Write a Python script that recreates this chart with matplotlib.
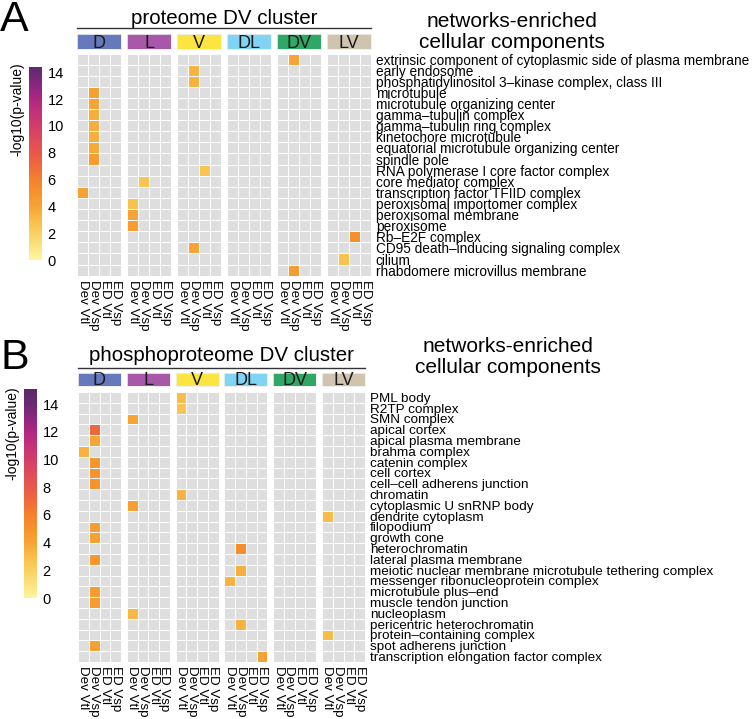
import numpy as np
import matplotlib
matplotlib.use('Agg')
import matplotlib.pyplot as plt
from matplotlib.colors import LinearSegmentedColormap, Normalize
from matplotlib.lines import Line2D

plt.rcParams['font.family'] = ['Liberation Sans', 'DejaVu Sans']

W, H = 753, 719

groups = ['D', 'L', 'V', 'DL', 'DV', 'LV']
group_colors = ['#6779BD', '#A857A9', '#FDE541', '#80D3F3', '#2FA866', '#D0C4AF']
conditions = ['Dev Vtl', 'Dev Vsp', 'ED Vtl', 'ED Vsp']

# panel A: proteome
terms_a = [
    'extrinsic component of cytoplasmic side of plasma membrane',
    'early endosome',
    'phosphatidylinositol 3–kinase complex, class III',
    'microtubule',
    'microtubule organizing center',
    'gamma–tubulin complex',
    'gamma–tubulin ring complex',
    'kinetochore microtubule',
    'equatorial microtubule organizing center',
    'spindle pole',
    'RNA polymerase I core factor complex',
    'core mediator complex',
    'transcription factor TFIID complex',
    'peroxisomal importomer complex',
    'peroxisomal membrane',
    'peroxisome',
    'Rb–E2F complex',
    'CD95 death–inducing signaling complex',
    'cilium',
    'rhabdomere microvillus membrane',
]
hit_group_a = ['DV', 'V', 'V', 'D', 'D', 'D', 'D', 'D', 'D', 'D',
               'V', 'L', 'D', 'L', 'L', 'L', 'LV', 'V', 'LV', 'DV']
hit_cond_a = ['Dev Vsp', 'Dev Vsp', 'Dev Vsp', 'Dev Vsp', 'Dev Vsp', 'Dev Vsp',
              'Dev Vsp', 'Dev Vsp', 'Dev Vsp', 'Dev Vsp', 'ED Vtl', 'Dev Vsp',
              'Dev Vtl', 'Dev Vtl', 'Dev Vtl', 'Dev Vtl', 'ED Vtl', 'Dev Vsp',
              'Dev Vsp', 'Dev Vsp']
hit_val_a = [4.0, 3.5, 3.5, 4.3, 4.0, 3.6, 3.6, 3.6, 3.8, 4.5,
             2.6, 2.6, 4.2, 2.8, 4.0, 4.5, 5.2, 4.0, 2.7, 4.5]

# panel B: phosphoproteome
terms_b = [
    'PML body', 'R2TP complex', 'SMN complex', 'apical cortex',
    'apical plasma membrane', 'brahma complex', 'catenin complex', 'cell cortex',
    'cell–cell adherens junction', 'chromatin', 'cytoplasmic U snRNP body',
    'dendrite cytoplasm', 'filopodium', 'growth cone', 'heterochromatin',
    'lateral plasma membrane',
    'meiotic nuclear membrane microtubule tethering complex',
    'messenger ribonucleoprotein complex', 'microtubule plus–end',
    'muscle tendon junction', 'nucleoplasm', 'pericentric heterochromatin',
    'protein–containing complex', 'spot adherens junction',
    'transcription elongation factor complex',
]
hit_group_b = ['V', 'V', 'L', 'D', 'D', 'D', 'D', 'D', 'D', 'V', 'L', 'LV', 'D',
               'D', 'DL', 'D', 'DL', 'DL', 'D', 'D', 'L', 'DL', 'LV', 'D', 'DL']
hit_cond_b = ['Dev Vtl', 'Dev Vtl', 'Dev Vtl', 'Dev Vsp', 'Dev Vsp', 'Dev Vtl',
              'Dev Vsp', 'Dev Vsp', 'Dev Vsp', 'Dev Vtl', 'Dev Vtl', 'Dev Vtl',
              'Dev Vsp', 'Dev Vsp', 'Dev Vsp', 'Dev Vsp', 'Dev Vsp', 'Dev Vtl',
              'Dev Vsp', 'Dev Vsp', 'Dev Vtl', 'Dev Vsp', 'Dev Vtl', 'Dev Vsp',
              'ED Vsp']
hit_val_b = [3.0, 2.6, 4.0, 7.2, 4.0, 3.5, 4.8, 5.0, 5.0, 3.5, 4.3, 3.0, 4.5,
             4.2, 5.3, 4.8, 3.6, 3.4, 4.5, 4.5, 3.2, 3.5, 3.0, 4.2, 4.2]

# colour scale nodes (-log10 p)
cmap_vals = [0, 2, 3, 4, 5, 6, 7, 8, 9, 10, 11, 12, 13, 14, 15]
cmap_cols = ['#FFF59E', '#FAD060', '#F9BC48', '#F8A434', '#F7922C', '#F5822E',
             '#F06A3A', '#E9584B', '#DF4C5A', '#D23E6A', '#C33378', '#B02882',
             '#8C2780', '#6A2A73', '#5A2868']
VMAX = 15.0
cmap = LinearSegmentedColormap.from_list(
    'pv', [(v / VMAX, c) for v, c in zip(cmap_vals, cmap_cols)])
cmap.set_bad('#DEDEDE')
norm = Normalize(0, VMAX)

fig = plt.figure(figsize=(W / 100, H / 100), dpi=100)


def px_axes(x0, y0, x1, y1):
    return fig.add_axes([x0 / W, 1 - y1 / H, (x1 - x0) / W, (y1 - y0) / H])


def draw_panel(terms, hg, hc, hv, gx0, pitch, gw, gy0, gy1, sy0, sy1, term_fs,
               title, title_y, line_y, head_x, head_y, cb_box, cb_max, cb_title_xy,
               letter, letter_y):
    nrow = len(terms)
    for gi, g in enumerate(groups):
        grid = np.full((nrow, 4), np.nan)
        for t, (hgrp, hcond, val) in enumerate(zip(hg, hc, hv)):
            if hgrp == g:
                grid[t, conditions.index(hcond)] = val
        x0 = gx0 + gi * pitch
        ax = px_axes(x0, gy0, x0 + gw, gy1)
        ax.pcolormesh(np.ma.masked_invalid(grid), cmap=cmap, norm=norm,
                      edgecolors='white', linewidth=0.45)
        ax.set_xlim(0, 4)
        ax.set_ylim(nrow, 0)
        for s in ax.spines.values():
            s.set_visible(False)
        ax.set_xticks(np.arange(4) + 0.5)
        ax.set_xticklabels(conditions, rotation=270, fontsize=9.6)
        ax.tick_params(axis='x', length=0, pad=3)
        if g == 'LV':
            ax.yaxis.tick_right()
            ax.set_yticks(np.arange(nrow) + 0.5)
            ax.set_yticklabels(terms, fontsize=term_fs)
            ax.tick_params(axis='y', length=0, pad=3.5)
        else:
            ax.set_yticks([])

        # facet strip
        sax = px_axes(x0, sy0, x0 + gw, sy1)
        sax.set_facecolor(group_colors[gi])
        sax.set_xticks([])
        sax.set_yticks([])
        for s in sax.spines.values():
            s.set_color('#EEEEEE')
            s.set_linewidth(0.6)
        sax.text(0.5, 0.40, g, ha='center', va='center', fontsize=13,
                 color='#1A1A1A', transform=sax.transAxes)

    right = gx0 + 5 * pitch + gw
    fig.text((gx0 + right) / 2 / W, 1 - title_y / H, title, ha='center',
             va='center', fontsize=14.8)
    fig.add_artist(Line2D([gx0 / W, right / W], [1 - line_y / H] * 2,
                          color='#333333', lw=1.0))
    fig.text(head_x / W, 1 - head_y / H, 'networks-enriched\ncellular components',
             ha='center', va='center', fontsize=15, linespacing=1.15)
    fig.text(0 / W, 1 - letter_y / H, letter, ha='left', va='center',
             fontsize=31)

    # colour bar
    cx0, cy0, cx1, cy1 = cb_box
    cax = px_axes(cx0, cy0, cx1, cy1)
    cax.imshow(np.linspace(0, cb_max, 256)[:, None], origin='lower',
               extent=[0, 1, 0, cb_max], aspect='auto', cmap=cmap, norm=norm)
    cax.set_xticks([])
    cax.yaxis.tick_right()
    cax.set_yticks(range(0, 15, 2))
    cax.tick_params(axis='y', length=0, pad=4, labelsize=10.5)
    for s in cax.spines.values():
        s.set_visible(False)
    tx, ty = cb_title_xy
    fig.text(tx / W, 1 - ty / H, '-log10(p-value)', rotation=90,
             ha='center', va='top', fontsize=10)


draw_panel(terms_a, hit_group_a, hit_cond_a, hit_val_a,
           gx0=77, pitch=50, gw=44, gy0=53.5, gy1=275.7, sy0=34, sy1=49,
           term_fs=9.8,
           title='proteome DV cluster', title_y=18, line_y=28,
           head_x=512, head_y=32, cb_box=(29, 67, 42, 260), cb_max=14.4,
           cb_title_xy=(17, 62), letter='A', letter_y=20)

draw_panel(terms_b, hit_group_b, hit_cond_b, hit_val_b,
           gx0=78, pitch=48.8, gw=43, gy0=392, gy1=662, sy0=373, sy1=386,
           term_fs=9.7,
           title='phosphoproteome DV cluster', title_y=356, line_y=368,
           head_x=508, head_y=357, cb_box=(24, 389, 37, 598), cb_max=15.1,
           cb_title_xy=(12, 386), letter='B', letter_y=358)

fig.savefig('out.png', dpi=100, facecolor='white')
